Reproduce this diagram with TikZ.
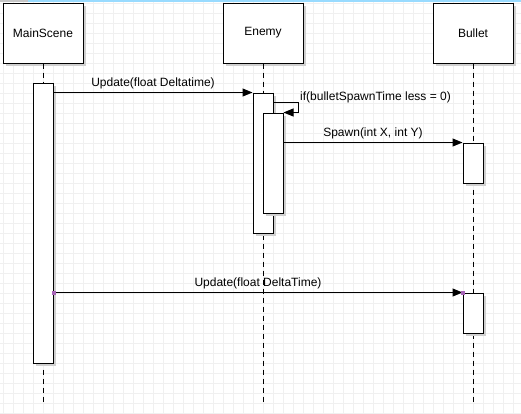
\documentclass[tikz,border=0pt]{standalone}
\usepackage{fontspec}
\setmainfont{Liberation Sans}
\usetikzlibrary{arrows.meta,shadows}
\definecolor{gridgray}{HTML}{F0F0F0}
\definecolor{shadegray}{HTML}{D0D0D0}
\definecolor{handle}{HTML}{A865B8}
\tikzset{
  box/.style={draw, line width=1pt, fill=white, inner sep=0pt,
    drop shadow={shadow xshift=3pt, shadow yshift=-3pt, fill=shadegray, opacity=1}},
  actor/.style={box, minimum width=80pt, minimum height=60pt},
  activation/.style={box, minimum width=20pt},
  lifeline/.style={line width=1pt, dash pattern=on 5pt off 4pt},
  msg/.style={line width=1pt, -{Triangle[length=10pt,width=8pt]}},
  lbl/.style={font=\fontsize{12}{14}\selectfont, inner sep=1pt}
}
\begin{document}
\begin{tikzpicture}[x=1pt, y=-1pt, font=\fontsize{12}{14}\selectfont]
    \useasboundingbox (0,0) rectangle (521,413);
    % Background grid
    \fill[white] (0,0) rectangle (521,413);
    \draw[gridgray, line width=0.8pt, step=10pt, shift={(3,3)}] (-3,-3) grid (518,410);
    \fill[gray!45] (0,0) rectangle (28,2);
    \fill[blue!35!cyan!40] (28,0) rectangle (521,2);

    % Actors
    \node[actor] (main) at (43,33) {MainScene};
    \node[actor] (enemy) at (263,33) {Enemy};
    \node[actor] (bullet) at (473,33) {Bullet};

    % Lifelines
    \coordinate (mainEnd) at (43,405);
    \coordinate (enemyEnd) at (263,405);
    \coordinate (bulletEnd) at (473,405);
    \draw[lifeline] (main.south) -- (mainEnd);
    \draw[lifeline] (enemy.south) -- (enemyEnd);
    \draw[lifeline] (bullet.south) -- (bulletEnd);

    % Activations
    \node[activation, minimum height=280pt] (mainAct) at (43,223) {};
    \node[activation, minimum height=140pt] (enemyAct) at (263,163) {};
    \node[activation, minimum height=100pt] (spawnAct) at (273,163) {};
    \node[activation, minimum height=40pt] (bulletAct) at (473,163) {};
    \node[activation, minimum height=40pt] (bulletUpd) at (473,313) {};

    % Messages
    \draw[msg] (mainAct.east |- enemyAct.north west) -- (enemyAct.north west)
      node[lbl, midway, above=2pt] {Update(float Deltatime)};
    \draw[msg] ([yshift=-10pt]enemyAct.north east) -- ++(25,0) |- (spawnAct.north east);
    \node[lbl, anchor=west] (cond) at (299,97) {if(bulletSpawnTime less = 0)};
    \draw[msg] (spawnAct.east |- bulletAct.north west) -- (bulletAct.north west)
      node[lbl, midway, above=2pt] {Spawn(int X, int Y)};
    \draw[msg] (mainAct.east |- bulletUpd.north west) -- (bulletUpd.north west)
      node[lbl, midway, above=2pt] {Update(float DeltaTime)};

    % Selection handles
    \fill[handle] ([shift={(-2,-2)}]mainAct.east |- bulletUpd.north west) rectangle ++(4,4);
    \fill[handle] ([shift={(-2,-2)}]bulletUpd.north west) rectangle ++(4,4);
\end{tikzpicture}
\end{document}
